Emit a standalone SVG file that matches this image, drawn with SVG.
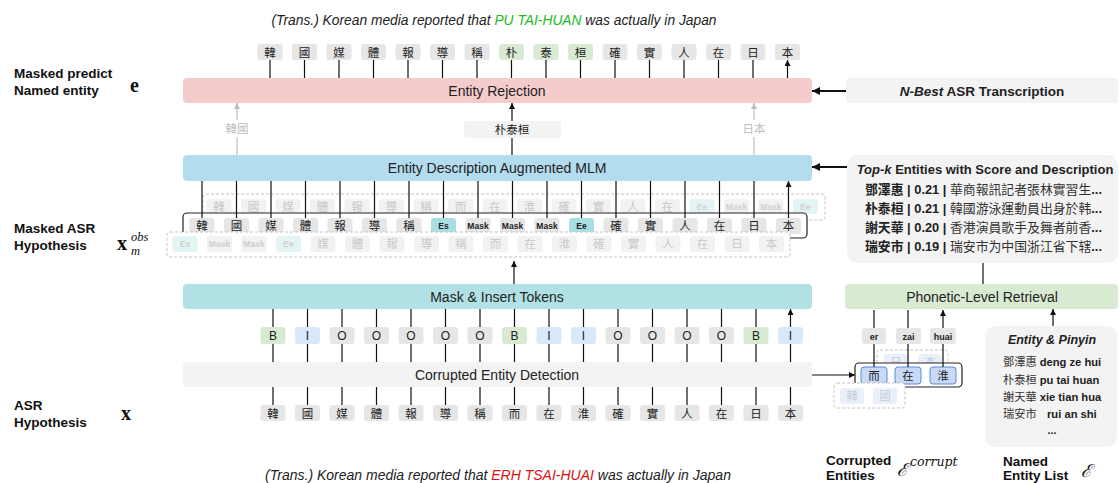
<svg xmlns="http://www.w3.org/2000/svg" width="1119" height="483" viewBox="0 0 1119 483">
<style>
.s{font-family:"Liberation Sans",Arial,sans-serif}
.cj{font-family:"Noto Sans CJK TC","Noto Sans CJK SC",sans-serif;font-size:11.5px;text-anchor:middle;fill:#222}
.lbl{font-family:"Liberation Sans",Arial,sans-serif;font-size:13.5px;font-weight:bold;fill:#111}
.box{font-family:"Liberation Sans",Arial,sans-serif;font-size:14px;text-anchor:middle;fill:#222}
.g{fill:#e6e6e6}
.grn{fill:#d9ead3}
.blu{fill:#dae8fc}
.teal{fill:#a9dfe3}
.gt{fill:#f2f2f2}
.gteal{fill:#e3f4f5}
.gtx{font-family:"Noto Sans CJK TC",sans-serif;font-size:11.5px;text-anchor:middle;fill:#c9c9c9}
.mk{font-family:"Liberation Sans",Arial,sans-serif;font-size:8.5px;font-weight:bold;text-anchor:middle;fill:#222}
.gmk{font-family:"Liberation Sans",Arial,sans-serif;font-size:8.5px;font-weight:bold;text-anchor:middle;fill:#cfcfcf}
.bio{font-family:"Liberation Sans",Arial,sans-serif;font-size:12px;text-anchor:middle;fill:#222}
.dash{fill:#fff;stroke:#c4c4c4;stroke-dasharray:3 2;stroke-width:1}
.ln{stroke:#111;stroke-width:1.2;fill:none}
.ar{stroke:#111;stroke-width:1.2;fill:none;marker-end:url(#ah)}
.gar{stroke:#bdbdbd;stroke-width:1.2;fill:none;marker-end:url(#gah)}
.bar{stroke:#111;stroke-width:2;fill:none;marker-end:url(#bah)}
.ctk{fill:#c9daf8;stroke:#5a8ad6;stroke-width:1}
.gctk{fill:#eaf0fa}
.gctx{font-family:"Noto Sans CJK TC",sans-serif;font-size:11.5px;text-anchor:middle;fill:#c5cfe0}
.py{font-family:"Liberation Sans",Arial,sans-serif;font-size:9px;font-weight:bold;text-anchor:middle;fill:#222}
.mix{font-family:"Liberation Sans","Noto Sans CJK TC",sans-serif;font-size:13px;fill:#333;text-anchor:start}
.mix2{font-family:"Liberation Sans","Noto Sans CJK TC",sans-serif;font-size:11.2px;fill:#333}
.m{font-family:"Liberation Serif","DejaVu Serif",serif;fill:#111}
</style>
<defs>
<marker id="ah" viewBox="0 0 8 8" refX="8" refY="4" markerUnits="userSpaceOnUse" markerWidth="6" markerHeight="6" orient="auto"><path d="M0,0 L8,4 L0,8 z" fill="#111"/></marker>
<marker id="gah" viewBox="0 0 8 8" refX="8" refY="4" markerUnits="userSpaceOnUse" markerWidth="6" markerHeight="6" orient="auto"><path d="M0,0 L8,4 L0,8 z" fill="#bdbdbd"/></marker>
<marker id="bah" viewBox="0 0 8 8" refX="8" refY="4" markerUnits="userSpaceOnUse" markerWidth="9" markerHeight="8" orient="auto"><path d="M0,0 L8,4 L0,8 z" fill="#111"/></marker>
</defs>
<rect width="1119" height="483" fill="#fff"/>

<!-- captions -->
<text x="494" y="25" class="s" font-size="13.8" font-style="italic" text-anchor="middle" fill="#222">(Trans.) Korean media reported that <tspan fill="#22bb22">PU TAI-HUAN</tspan> was actually in Japan</text>
<text x="498" y="480" class="s" font-size="14" font-style="italic" text-anchor="middle" fill="#222">(Trans.) Korean media reported that <tspan fill="#dd1111">ERH TSAI-HUAI</tspan> was actually in Japan</text>

<!-- left labels -->
<g id="label-e">
<text x="14" y="78" class="lbl">Masked predict</text>
<text x="14" y="95" class="lbl">Named entity</text>
<text x="130" y="92" class="m" font-size="20" font-weight="bold">e</text>
</g>
<g id="label-xm">
<text x="14" y="233" class="lbl">Masked ASR</text>
<text x="14" y="250" class="lbl">Hypothesis</text>
<text x="117" y="250" class="m" font-size="20" font-weight="bold">x</text>
<text x="131" y="241" class="m" font-size="12.5" font-style="italic">obs</text>
<text x="131" y="255" class="m" font-size="12.5" font-style="italic">m</text>
</g>
<g id="label-x">
<text x="14" y="410" class="lbl">ASR</text>
<text x="14" y="427" class="lbl">Hypothesis</text>
<text x="121" y="420" class="m" font-size="20" font-weight="bold">x</text>
</g>
<g id="label-corrupt">
<text x="826" y="465" class="lbl">Corrupted</text>
<text x="826" y="480" class="lbl">Entities</text>
<text x="897" y="476" font-family="DejaVu Serif,serif" font-size="18" font-style="italic" fill="#111">ℰ</text>
<text x="910" y="466" font-family="DejaVu Serif,serif" font-size="12.5" font-style="italic" fill="#111">corrupt</text>
</g>
<g id="label-list">
<text x="1003" y="466" class="lbl">Named</text>
<text x="1003" y="480" class="lbl">Entity List</text>
<text x="1081" y="477" font-family="DejaVu Serif,serif" font-size="18" font-style="italic" fill="#111">ℰ</text>
</g>

<!-- connectors -->
<g id="connectors">
<path class="ar" d="M270,78V60M304.5,78V60M339,78V60M373.5,78V60M408,78V60M442.5,78V60M477,78V60M511.5,78V60M546,78V60M580.5,78V60M615,78V60M649.5,78V60M684,78V60M718.5,78V60M753,78V60M787.5,78V60"/>
<path class="gar" d="M237,155V103"/>
<path class="gar" d="M754,155V103"/>
<path class="ar" d="M512,155V103"/>
<path class="ar" d="M514,284V261"/>
<path class="ar" d="M273,327V309M307.5,327V309M342,327V309M376.5,327V309M411,327V309M445.5,327V309M480,327V309M514.5,327V309M549,327V309M583.5,327V309M618,327V309M652.5,327V309M687,327V309M721.5,327V309M756,327V309M790.5,327V309"/>
<path class="ln" d="M273,344V362M307.5,344V362M342,344V362M376.5,344V362M411,344V362M445.5,344V362M480,344V362M514.5,344V362M549,344V362M583.5,344V362M618,344V362M652.5,344V362M687,344V362M721.5,344V362M756,344V362M790.5,344V362"/>
<path class="ln" d="M273,405V387M307.5,405V387M342,405V387M376.5,405V387M411,405V387M445.5,405V387M480,405V387M514.5,405V387M549,405V387M583.5,405V387M618,405V387M652.5,405V387M687,405V387M721.5,405V387M756,405V387M790.5,405V387"/>
<path class="bar" d="M846,91H812"/>
<path class="bar" d="M847,167H812"/>
<path class="ar" d="M812,375H855"/>
<path class="ln" d="M983,284V263"/>
<path class="ar" d="M1053,326V309"/>
</g>

<!-- main boxes -->
<g id="entity-rejection"><rect x="183" y="78" width="629" height="25" rx="4" fill="#f4cccc"/><text x="497" y="95.5" class="box">Entity Rejection</text></g>
<g id="nbest"><rect x="846" y="78" width="272" height="25" rx="4" fill="#f3f3f3"/><text x="982" y="95.5" class="s" font-size="13.5" font-weight="bold" text-anchor="middle" fill="#222"><tspan font-style="italic">N-Best</tspan> ASR Transcription</text></g>
<g id="mlm"><rect x="183" y="155" width="629" height="26" rx="4" fill="#b3dcef"/><text x="497" y="173" class="box">Entity Description Augmented MLM</text></g>
<g id="mask-insert"><rect x="183" y="284" width="629" height="25" rx="4" fill="#b1e1e4"/><text x="497" y="301.5" class="box">Mask &amp; Insert Tokens</text></g>
<g id="ced"><rect x="183" y="362" width="629" height="25" rx="4" fill="#f3f3f3"/><text x="497" y="379.5" class="box" fill="#555">Corrupted Entity Detection</text></g>
<g id="retrieval"><rect x="845" y="284" width="273" height="25" rx="4" fill="#d9ead3"/><text x="982" y="301.5" class="box">Phonetic-Level Retrieval</text></g>

<g id="pred-hanguo"><rect x="222" y="120" width="30" height="17" fill="#fff"/><text x="237" y="133" class="gtx" style="fill:#bdbdbd">韓國</text></g>
<g id="pred-entity"><rect x="464" y="121" width="97" height="17" rx="3" fill="#f3f3f3"/><text x="512" y="134" class="cj">朴泰桓</text></g>
<g id="pred-riben"><rect x="739" y="120" width="30" height="17" fill="#fff"/><text x="754" y="133" class="gtx" style="fill:#bdbdbd">日本</text></g>

<!-- output tokens -->
<g id="output-tokens">
<g id="o0"><rect x="257.5" y="44" width="25" height="16" rx="3" class="g"/><text x="270" y="56.5" class="cj">韓</text></g>
<g id="o1"><rect x="292" y="44" width="25" height="16" rx="3" class="g"/><text x="304.5" y="56.5" class="cj">國</text></g>
<g id="o2"><rect x="326.5" y="44" width="25" height="16" rx="3" class="g"/><text x="339" y="56.5" class="cj">媒</text></g>
<g id="o3"><rect x="361" y="44" width="25" height="16" rx="3" class="g"/><text x="373.5" y="56.5" class="cj">體</text></g>
<g id="o4"><rect x="395.5" y="44" width="25" height="16" rx="3" class="g"/><text x="408" y="56.5" class="cj">報</text></g>
<g id="o5"><rect x="430" y="44" width="25" height="16" rx="3" class="g"/><text x="442.5" y="56.5" class="cj">導</text></g>
<g id="o6"><rect x="464.5" y="44" width="25" height="16" rx="3" class="g"/><text x="477" y="56.5" class="cj">稱</text></g>
<g id="o7"><rect x="499" y="44" width="25" height="16" rx="3" class="grn"/><text x="511.5" y="56.5" class="cj">朴</text></g>
<g id="o8"><rect x="533.5" y="44" width="25" height="16" rx="3" class="grn"/><text x="546" y="56.5" class="cj">泰</text></g>
<g id="o9"><rect x="568" y="44" width="25" height="16" rx="3" class="grn"/><text x="580.5" y="56.5" class="cj">桓</text></g>
<g id="o10"><rect x="602.5" y="44" width="25" height="16" rx="3" class="g"/><text x="615" y="56.5" class="cj">確</text></g>
<g id="o11"><rect x="637" y="44" width="25" height="16" rx="3" class="g"/><text x="649.5" y="56.5" class="cj">實</text></g>
<g id="o12"><rect x="671.5" y="44" width="25" height="16" rx="3" class="g"/><text x="684" y="56.5" class="cj">人</text></g>
<g id="o13"><rect x="706" y="44" width="25" height="16" rx="3" class="g"/><text x="718.5" y="56.5" class="cj">在</text></g>
<g id="o14"><rect x="740.5" y="44" width="25" height="16" rx="3" class="g"/><text x="753" y="56.5" class="cj">日</text></g>
<g id="o15"><rect x="775" y="44" width="25" height="16" rx="3" class="g"/><text x="787.5" y="56.5" class="cj">本</text></g>
</g>

<!-- upper ghost hypothesis -->
<g id="ghost-upper">
<rect x="203" y="194" width="622" height="26" rx="3" class="dash"/>
<g id="gu0"><rect x="206.5" y="199" width="25" height="15" rx="3" class="gt"/><text x="219" y="211" class="gtx">韓</text></g>
<g id="gu1"><rect x="241" y="199" width="25" height="15" rx="3" class="gt"/><text x="253.5" y="211" class="gtx">國</text></g>
<g id="gu2"><rect x="275.5" y="199" width="25" height="15" rx="3" class="gt"/><text x="288" y="211" class="gtx">媒</text></g>
<g id="gu3"><rect x="310" y="199" width="25" height="15" rx="3" class="gt"/><text x="322.5" y="211" class="gtx">體</text></g>
<g id="gu4"><rect x="344.5" y="199" width="25" height="15" rx="3" class="gt"/><text x="357" y="211" class="gtx">報</text></g>
<g id="gu5"><rect x="379" y="199" width="25" height="15" rx="3" class="gt"/><text x="391.5" y="211" class="gtx">導</text></g>
<g id="gu6"><rect x="413.5" y="199" width="25" height="15" rx="3" class="gt"/><text x="426" y="211" class="gtx">稱</text></g>
<g id="gu7"><rect x="448" y="199" width="25" height="15" rx="3" class="gt"/><text x="460.5" y="211" class="gtx">而</text></g>
<g id="gu8"><rect x="482.5" y="199" width="25" height="15" rx="3" class="gt"/><text x="495" y="211" class="gtx">在</text></g>
<g id="gu9"><rect x="517" y="199" width="25" height="15" rx="3" class="gt"/><text x="529.5" y="211" class="gtx">淮</text></g>
<g id="gu10"><rect x="551.5" y="199" width="25" height="15" rx="3" class="gt"/><text x="564" y="211" class="gtx">確</text></g>
<g id="gu11"><rect x="586" y="199" width="25" height="15" rx="3" class="gt"/><text x="598.5" y="211" class="gtx">實</text></g>
<g id="gu12"><rect x="620.5" y="199" width="25" height="15" rx="3" class="gt"/><text x="633" y="211" class="gtx">人</text></g>
<g id="gu13"><rect x="655" y="199" width="25" height="15" rx="3" class="gt"/><text x="667.5" y="211" class="gtx">在</text></g>
<g id="gu14"><rect x="689.5" y="199" width="25" height="15" rx="3" class="gteal"/><text x="702" y="210" class="gmk">Es</text></g>
<g id="gu15"><rect x="724" y="199" width="25" height="15" rx="3" class="gt"/><text x="736.5" y="210" class="gmk">Mask</text></g>
<g id="gu16"><rect x="758.5" y="199" width="25" height="15" rx="3" class="gt"/><text x="771" y="210" class="gmk">Mask</text></g>
<g id="gu17"><rect x="793" y="199" width="25" height="15" rx="3" class="gteal"/><text x="805.5" y="210" class="gmk">Ee</text></g>
</g>

<!-- main masked hypothesis -->
<g id="masked-main">
<rect x="183" y="213" width="624" height="25" rx="4" fill="#fff" stroke="#222" stroke-width="1.2"/>
<g id="m0"><rect x="189.5" y="218" width="25" height="16" rx="3" class="g"/><text x="202" y="230" class="cj">韓</text></g>
<g id="m1"><rect x="224" y="218" width="25" height="16" rx="3" class="g"/><text x="236.5" y="230" class="cj">國</text></g>
<g id="m2"><rect x="258.5" y="218" width="25" height="16" rx="3" class="g"/><text x="271" y="230" class="cj">媒</text></g>
<g id="m3"><rect x="293" y="218" width="25" height="16" rx="3" class="g"/><text x="305.5" y="230" class="cj">體</text></g>
<g id="m4"><rect x="327.5" y="218" width="25" height="16" rx="3" class="g"/><text x="340" y="230" class="cj">報</text></g>
<g id="m5"><rect x="362" y="218" width="25" height="16" rx="3" class="g"/><text x="374.5" y="230" class="cj">導</text></g>
<g id="m6"><rect x="396.5" y="218" width="25" height="16" rx="3" class="g"/><text x="409" y="230" class="cj">稱</text></g>
<g id="m7"><rect x="431" y="218" width="25" height="16" rx="3" class="teal"/><text x="443.5" y="229" class="mk">Es</text></g>
<g id="m8"><rect x="465.5" y="218" width="25" height="16" rx="3" class="g"/><text x="478" y="229" class="mk">Mask</text></g>
<g id="m9"><rect x="500" y="218" width="25" height="16" rx="3" class="g"/><text x="512.5" y="229" class="mk">Mask</text></g>
<g id="m10"><rect x="534.5" y="218" width="25" height="16" rx="3" class="g"/><text x="547" y="229" class="mk">Mask</text></g>
<g id="m11"><rect x="569" y="218" width="25" height="16" rx="3" class="teal"/><text x="581.5" y="229" class="mk">Ee</text></g>
<g id="m12"><rect x="603.5" y="218" width="25" height="16" rx="3" class="g"/><text x="616" y="230" class="cj">確</text></g>
<g id="m13"><rect x="638" y="218" width="25" height="16" rx="3" class="g"/><text x="650.5" y="230" class="cj">實</text></g>
<g id="m14"><rect x="672.5" y="218" width="25" height="16" rx="3" class="g"/><text x="685" y="230" class="cj">人</text></g>
<g id="m15"><rect x="707" y="218" width="25" height="16" rx="3" class="g"/><text x="719.5" y="230" class="cj">在</text></g>
<g id="m16"><rect x="741.5" y="218" width="25" height="16" rx="3" class="g"/><text x="754" y="230" class="cj">日</text></g>
<g id="m17"><rect x="776" y="218" width="25" height="16" rx="3" class="g"/><text x="788.5" y="230" class="cj">本</text></g>
</g>
<g id="connectors-mlm">
<path class="ar" d="M202,218V181M236.5,218V181M271,218V181M305.5,218V181M340,218V181M374.5,218V181M409,218V181M443.5,218V181M478,218V181M512.5,218V181M547,218V181M581.5,218V181M616,218V181M650.5,218V181M685,218V181M719.5,218V181M754,218V181M788.5,218V181"/>
</g>

<!-- lower ghost hypothesis -->
<g id="ghost-lower">
<rect x="167" y="232" width="623" height="25" rx="3" class="dash"/>
<g id="gl0"><rect x="172.5" y="236" width="25" height="16" rx="3" class="gteal"/><text x="185" y="247" class="gmk">Es</text></g>
<g id="gl1"><rect x="207" y="236" width="25" height="16" rx="3" class="gt"/><text x="219.5" y="247" class="gmk">Mask</text></g>
<g id="gl2"><rect x="241.5" y="236" width="25" height="16" rx="3" class="gt"/><text x="254" y="247" class="gmk">Mask</text></g>
<g id="gl3"><rect x="276" y="236" width="25" height="16" rx="3" class="gteal"/><text x="288.5" y="247" class="gmk">Ee</text></g>
<g id="gl4"><rect x="310.5" y="236" width="25" height="16" rx="3" class="gt"/><text x="323" y="248" class="gtx">媒</text></g>
<g id="gl5"><rect x="345" y="236" width="25" height="16" rx="3" class="gt"/><text x="357.5" y="248" class="gtx">體</text></g>
<g id="gl6"><rect x="379.5" y="236" width="25" height="16" rx="3" class="gt"/><text x="392" y="248" class="gtx">報</text></g>
<g id="gl7"><rect x="414" y="236" width="25" height="16" rx="3" class="gt"/><text x="426.5" y="248" class="gtx">導</text></g>
<g id="gl8"><rect x="448.5" y="236" width="25" height="16" rx="3" class="gt"/><text x="461" y="248" class="gtx">稱</text></g>
<g id="gl9"><rect x="483" y="236" width="25" height="16" rx="3" class="gt"/><text x="495.5" y="248" class="gtx">而</text></g>
<g id="gl10"><rect x="517.5" y="236" width="25" height="16" rx="3" class="gt"/><text x="530" y="248" class="gtx">在</text></g>
<g id="gl11"><rect x="552" y="236" width="25" height="16" rx="3" class="gt"/><text x="564.5" y="248" class="gtx">淮</text></g>
<g id="gl12"><rect x="586.5" y="236" width="25" height="16" rx="3" class="gt"/><text x="599" y="248" class="gtx">確</text></g>
<g id="gl13"><rect x="621" y="236" width="25" height="16" rx="3" class="gt"/><text x="633.5" y="248" class="gtx">實</text></g>
<g id="gl14"><rect x="655.5" y="236" width="25" height="16" rx="3" class="gt"/><text x="668" y="248" class="gtx">人</text></g>
<g id="gl15"><rect x="690" y="236" width="25" height="16" rx="3" class="gt"/><text x="702.5" y="248" class="gtx">在</text></g>
<g id="gl16"><rect x="724.5" y="236" width="25" height="16" rx="3" class="gt"/><text x="737" y="248" class="gtx">日</text></g>
<g id="gl17"><rect x="759" y="236" width="25" height="16" rx="3" class="gt"/><text x="771.5" y="248" class="gtx">本</text></g>
</g>

<!-- BIO tags -->
<g id="bio-tags">
<g id="b0"><rect x="260.5" y="327" width="25" height="17" rx="3" class="grn"/><text x="273" y="340" class="bio">B</text></g>
<g id="b1"><rect x="295" y="327" width="25" height="17" rx="3" class="blu"/><text x="307.5" y="340" class="bio">I</text></g>
<g id="b2"><rect x="329.5" y="327" width="25" height="17" rx="3" class="g"/><text x="342" y="340" class="bio">O</text></g>
<g id="b3"><rect x="364" y="327" width="25" height="17" rx="3" class="g"/><text x="376.5" y="340" class="bio">O</text></g>
<g id="b4"><rect x="398.5" y="327" width="25" height="17" rx="3" class="g"/><text x="411" y="340" class="bio">O</text></g>
<g id="b5"><rect x="433" y="327" width="25" height="17" rx="3" class="g"/><text x="445.5" y="340" class="bio">O</text></g>
<g id="b6"><rect x="467.5" y="327" width="25" height="17" rx="3" class="g"/><text x="480" y="340" class="bio">O</text></g>
<g id="b7"><rect x="502" y="327" width="25" height="17" rx="3" class="grn"/><text x="514.5" y="340" class="bio">B</text></g>
<g id="b8"><rect x="536.5" y="327" width="25" height="17" rx="3" class="blu"/><text x="549" y="340" class="bio">I</text></g>
<g id="b9"><rect x="571" y="327" width="25" height="17" rx="3" class="blu"/><text x="583.5" y="340" class="bio">I</text></g>
<g id="b10"><rect x="605.5" y="327" width="25" height="17" rx="3" class="g"/><text x="618" y="340" class="bio">O</text></g>
<g id="b11"><rect x="640" y="327" width="25" height="17" rx="3" class="g"/><text x="652.5" y="340" class="bio">O</text></g>
<g id="b12"><rect x="674.5" y="327" width="25" height="17" rx="3" class="g"/><text x="687" y="340" class="bio">O</text></g>
<g id="b13"><rect x="709" y="327" width="25" height="17" rx="3" class="g"/><text x="721.5" y="340" class="bio">O</text></g>
<g id="b14"><rect x="743.5" y="327" width="25" height="17" rx="3" class="grn"/><text x="756" y="340" class="bio">B</text></g>
<g id="b15"><rect x="778" y="327" width="25" height="17" rx="3" class="blu"/><text x="790.5" y="340" class="bio">I</text></g>
</g>

<!-- input tokens -->
<g id="input-tokens">
<g id="i0"><rect x="260.5" y="405" width="25" height="16" rx="3" class="g"/><text x="273" y="417.5" class="cj">韓</text></g>
<g id="i1"><rect x="295" y="405" width="25" height="16" rx="3" class="g"/><text x="307.5" y="417.5" class="cj">國</text></g>
<g id="i2"><rect x="329.5" y="405" width="25" height="16" rx="3" class="g"/><text x="342" y="417.5" class="cj">媒</text></g>
<g id="i3"><rect x="364" y="405" width="25" height="16" rx="3" class="g"/><text x="376.5" y="417.5" class="cj">體</text></g>
<g id="i4"><rect x="398.5" y="405" width="25" height="16" rx="3" class="g"/><text x="411" y="417.5" class="cj">報</text></g>
<g id="i5"><rect x="433" y="405" width="25" height="16" rx="3" class="g"/><text x="445.5" y="417.5" class="cj">導</text></g>
<g id="i6"><rect x="467.5" y="405" width="25" height="16" rx="3" class="g"/><text x="480" y="417.5" class="cj">稱</text></g>
<g id="i7"><rect x="502" y="405" width="25" height="16" rx="3" class="g"/><text x="514.5" y="417.5" class="cj">而</text></g>
<g id="i8"><rect x="536.5" y="405" width="25" height="16" rx="3" class="g"/><text x="549" y="417.5" class="cj">在</text></g>
<g id="i9"><rect x="571" y="405" width="25" height="16" rx="3" class="g"/><text x="583.5" y="417.5" class="cj">淮</text></g>
<g id="i10"><rect x="605.5" y="405" width="25" height="16" rx="3" class="g"/><text x="618" y="417.5" class="cj">確</text></g>
<g id="i11"><rect x="640" y="405" width="25" height="16" rx="3" class="g"/><text x="652.5" y="417.5" class="cj">實</text></g>
<g id="i12"><rect x="674.5" y="405" width="25" height="16" rx="3" class="g"/><text x="687" y="417.5" class="cj">人</text></g>
<g id="i13"><rect x="709" y="405" width="25" height="16" rx="3" class="g"/><text x="721.5" y="417.5" class="cj">在</text></g>
<g id="i14"><rect x="743.5" y="405" width="25" height="16" rx="3" class="g"/><text x="756" y="417.5" class="cj">日</text></g>
<g id="i15"><rect x="778" y="405" width="25" height="16" rx="3" class="g"/><text x="790.5" y="417.5" class="cj">本</text></g>
</g>

<!-- corrupted entities -->
<g id="corrupt-ghost-upper">
<rect x="877" y="350" width="71" height="24" rx="3" class="dash"/>
<rect x="884" y="354" width="24" height="16" rx="3" class="gctk"/><text x="896" y="366" class="gctx">日</text>
<rect x="918" y="354" width="24" height="16" rx="3" class="gctk"/><text x="930" y="366" class="gctx">本</text>
</g>
<g id="corrupt-main">
<rect x="855" y="363" width="107" height="24" rx="4" fill="#fff" stroke="#222" stroke-width="1.2"/>
<rect x="861" y="367" width="26" height="17" rx="3" class="ctk"/><text x="874" y="379.5" class="cj">而</text>
<rect x="895" y="367" width="26" height="17" rx="3" class="ctk"/><text x="908" y="379.5" class="cj">在</text>
<rect x="930" y="367" width="26" height="17" rx="3" class="ctk"/><text x="943" y="379.5" class="cj">淮</text>
</g>
<g id="corrupt-ghost-lower">
<rect x="834" y="383" width="71" height="25" rx="3" class="dash"/>
<rect x="840" y="388" width="24" height="16" rx="3" class="gctk"/><text x="852" y="400" class="gctx">韓</text>
<rect x="873" y="388" width="24" height="16" rx="3" class="gctk"/><text x="885" y="400" class="gctx">國</text>
</g>
<g id="connectors-retrieval">
<path class="ar" d="M874,367V310M908,367V310M943,367V310"/>
</g>
<g id="pinyin-er"><rect x="862" y="328" width="24" height="16" rx="3" class="g"/><text x="874" y="339.5" class="py">er</text></g>
<g id="pinyin-zai"><rect x="896" y="328" width="25" height="16" rx="3" class="g"/><text x="908.5" y="339.5" class="py">zai</text></g>
<g id="pinyin-huai"><rect x="930" y="328" width="26" height="16" rx="3" class="g"/><text x="943" y="339.5" class="py">huai</text></g>

<!-- top-k panel -->
<g id="topk">
<rect x="847" y="155" width="271" height="108" rx="10" fill="#f3f3f3"/>
<text x="985" y="174" class="s" font-size="13" font-weight="bold" text-anchor="middle" fill="#222"><tspan font-style="italic">Top-k</tspan> Entities with Score and Description</text>
<text x="865" y="194" class="mix" textLength="237" lengthAdjust="spacingAndGlyphs"><tspan font-weight="bold" fill="#222">鄧澤惠 | 0.21 | </tspan>華商報訊記者張林實習生<tspan font-weight="bold" fill="#222">...</tspan></text>
<text x="865" y="213" class="mix" textLength="237" lengthAdjust="spacingAndGlyphs"><tspan font-weight="bold" fill="#222">朴泰桓 | 0.21 | </tspan>韓國游泳運動員出身於韩<tspan font-weight="bold" fill="#222">...</tspan></text>
<text x="865" y="232" class="mix" textLength="237" lengthAdjust="spacingAndGlyphs"><tspan font-weight="bold" fill="#222">謝天華 | 0.20 | </tspan>香港演員歌手及舞者前香<tspan font-weight="bold" fill="#222">...</tspan></text>
<text x="865" y="251" class="mix" textLength="237" lengthAdjust="spacingAndGlyphs"><tspan font-weight="bold" fill="#222">瑞安市 | 0.19 | </tspan>瑞安市为中国浙江省下辖<tspan font-weight="bold" fill="#222">...</tspan></text>
</g>

<!-- entity & pinyin panel -->
<g id="entity-list">
<rect x="985" y="326" width="132" height="121" rx="10" fill="#f3f3f3"/>
<text x="1052" y="344" class="s" font-size="12.5" font-weight="bold" font-style="italic" text-anchor="middle" fill="#222">Entity &amp; Pinyin</text>
<text x="1003" y="366" class="mix2">鄧澤惠 <tspan font-weight="bold" fill="#222">deng ze hui</tspan></text>
<text x="1003" y="384" class="mix2">朴泰桓 <tspan font-weight="bold" fill="#222">pu tai huan</tspan></text>
<text x="1003" y="401" class="mix2">謝天華 <tspan font-weight="bold" fill="#222">xie tian hua</tspan></text>
<text x="1003" y="418" class="mix2">瑞安市 <tspan x="1047" font-weight="bold" fill="#222">rui an shi</tspan></text>
<text x="1052" y="434" class="s" font-size="11" font-weight="bold" text-anchor="middle" fill="#222">...</text>
</g>
</svg>
